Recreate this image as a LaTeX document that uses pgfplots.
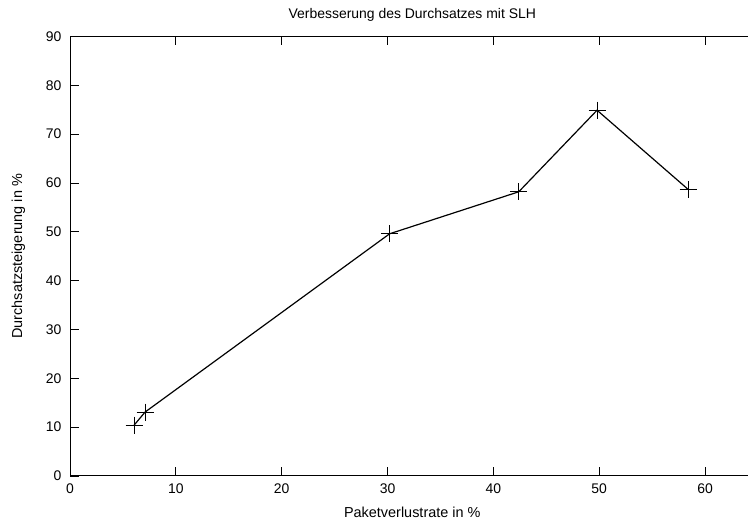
\documentclass[border=0pt]{standalone}
\usepackage{pgfplots}
\pgfplotsset{compat=1.18}
\usepackage{fontspec}
\setmainfont{Liberation Sans}

\begin{document}
\begin{tikzpicture}[x=1bp,y=1bp]
\useasboundingbox (0,0) rectangle (748,522);
\begin{axis}[
  at={(70bp,46bp)}, anchor=south west,
  scale only axis,
  width=698.5bp, height=439.5bp,
  xmin=0, xmax=66, ymin=0, ymax=90,
  axis x line*=box, axis y line*=left,
  xtick={0,10,...,60}, ytick={0,10,...,90},
  xtick pos=both, ytick pos=left,
  tick align=inside,
  major tick length=9bp,
  axis line style={line width=1pt},
  every tick/.style={black, line width=0.8pt},
  tick label style={font=\fontsize{14}{16}\selectfont},
  xticklabel style={yshift=-4bp},
  yticklabel style={xshift=-5bp},
  /pgf/number format/assume math mode=true,
  label style={font=\fontsize{14.5}{16}\selectfont},
  title={Verbesserung des Durchsatzes mit SLH},
  xlabel={Paketverlustrate in \%},
  ylabel={Durchsatzsteigerung in \%},
  xlabel style={at={(ticklabel cs:0.49)}, yshift=-7bp},
  ylabel style={yshift=14bp},
  title style={font=\fontsize{14}{16}\selectfont, at={(0.49,1)}, yshift=6bp},
]
\addplot[black, line width=1.2pt, mark=+, mark size=8.5bp, mark options={line width=1pt}]
  coordinates {(6.05,10.4) (7.1,13.1) (30.2,49.6) (42.4,58.2) (49.8,74.9) (58.4,58.7)};
\end{axis}
\end{tikzpicture}
\end{document}
